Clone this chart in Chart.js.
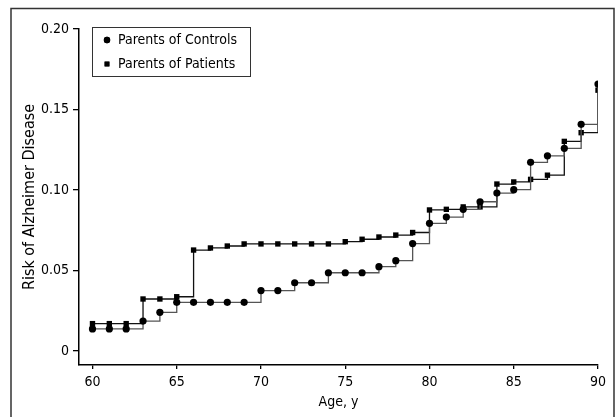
<!DOCTYPE html>
<html>
<head>
<meta charset="utf-8">
<script src="https://cdn.jsdelivr.net/npm/chart.js@4"></script>
<style>
  html, body { margin: 0; padding: 0; background: #fff; }
  #wrap { width: 615px; height: 417px; position: relative; }
</style>
</head>
<body>
<div id="wrap"><canvas id="c" width="615" height="417"></canvas></div>
<script>
const ages = [60,61,62,63,64,65,66,67,68,69,70,71,72,73,74,75,76,77,78,79,80,81,82,83,84,85,86,87,88,89,90];
const controls = [0.0137,0.0137,0.0137,0.0186,0.0240,0.0302,0.0302,0.0302,0.0302,0.0302,0.0375,0.0375,0.0424,0.0424,0.0486,0.0486,0.0486,0.0524,0.0561,0.0667,0.0793,0.0832,0.0880,0.0927,0.0981,0.1002,0.1172,0.1212,0.1259,0.1408,0.1658];
const patients = [0.0170,0.0170,0.0170,0.0323,0.0323,0.0337,0.0627,0.0640,0.0652,0.0665,0.0665,0.0665,0.0665,0.0665,0.0665,0.0679,0.0694,0.0708,0.0720,0.0736,0.0876,0.0880,0.0895,0.0895,0.1037,0.1050,0.1066,0.1092,0.1302,0.1356,0.1620];
const yTicks = [0, 0.05, 0.10, 0.15, 0.20];
const yTickLabels = ['0', '0.05', '0.10', '0.15', '0.20'];
const xTicks = [60, 65, 70, 75, 80, 85, 90];
const seriesNames = ['Parents of Controls', 'Parents of Patients'];

const FONT = "'DejaVu Sans Condensed', 'Liberation Sans', Arial, sans-serif";

const framePlugin = {
  id: 'frame',
  beforeDraw(chart) {
    const ctx = chart.ctx;
    ctx.save();
    ctx.strokeStyle = '#333';
    ctx.lineWidth = 1.5;
    ctx.beginPath();
    ctx.moveTo(11, 430);
    ctx.lineTo(11, 8.5);
    ctx.lineTo(614, 8.5);
    ctx.lineTo(614, 430);
    ctx.stroke();
    ctx.restore();
  }
};

const legendPlugin = {
  id: 'boxLegend',
  afterDraw(chart) {
    const ctx = chart.ctx;
    ctx.save();
    ctx.fillStyle = '#fff';
    ctx.fillRect(92.5, 27.5, 158, 49);
    ctx.strokeStyle = '#333';
    ctx.lineWidth = 1;
    ctx.strokeRect(92.5, 27.5, 158, 49);
    const rows = [40, 64];
    chart.data.datasets.forEach((ds, i) => {
      ctx.fillStyle = '#000';
      ctx.strokeStyle = '#000';
      Chart.helpers.drawPoint(ctx, {pointStyle: ds.pointStyle, radius: i === 0 ? 3.2 : 3.4, rotation: 0, borderWidth: 0}, 107, rows[i]);
      ctx.fill();
      ctx.fillStyle = '#000';
      ctx.font = "14px " + FONT;
      ctx.textBaseline = 'middle';
      ctx.textAlign = 'left';
      ctx.fillText(ds.label, 118, rows[i] + 0.5);
    });
    ctx.restore();
  }
};

new Chart(document.getElementById('c'), {
  type: 'line',
  data: {
    labels: ages,
    datasets: [
      {
        label: seriesNames[0],
        data: ages.map((a, i) => ({x: a, y: controls[i]})),
        stepped: 'before',
        borderColor: '#555',
        borderWidth: 1.3,
        pointStyle: 'circle',
        pointRadius: 3.6,
        pointBackgroundColor: '#000',
        pointBorderColor: '#000',
        pointBorderWidth: 0,
        fill: false
      },
      {
        label: seriesNames[1],
        data: ages.map((a, i) => ({x: a, y: patients[i]})),
        stepped: 'before',
        borderColor: '#111',
        borderWidth: 1.3,
        pointStyle: 'rect',
        pointRadius: 3.8,
        pointBackgroundColor: '#000',
        pointBorderColor: '#000',
        pointBorderWidth: 0,
        fill: false
      }
    ]
  },
  options: {
    responsive: false,
    animation: false,
    devicePixelRatio: 1,
    layout: { padding: { left: 12, top: 29, right: 17, bottom: 0 } },
    plugins: {
      legend: { display: false },
      tooltip: { enabled: false }
    },
    scales: {
      x: {
        type: 'linear',
        min: 59.2,
        max: 90,
        afterFit(s) { s.height = 52; },
        afterBuildTicks(s) { s.ticks = xTicks.map(v => ({value: v})); },
        grid: { display: true, drawOnChartArea: false, drawTicks: true, tickLength: 4, color: '#000', tickColor: '#000', lineWidth: 1.3 },
        border: { display: true, color: '#000', width: 1.5 },
        ticks: { color: '#000', font: { family: FONT, size: 14 }, padding: 5, maxRotation: 0, autoSkip: false },
        title: { display: true, text: 'Age, y', color: '#000', font: { family: FONT, size: 14 }, padding: { top: 0, bottom: 6 } }
      },
      y: {
        type: 'linear',
        min: -0.0087,
        max: 0.2,
        afterFit(s) { s.width = 67; },
        afterBuildTicks(s) { s.ticks = yTicks.map(v => ({value: v})); },
        grid: { display: true, drawOnChartArea: false, drawTicks: true, tickLength: 6, color: '#000', tickColor: '#000', lineWidth: 1.3 },
        border: { display: true, color: '#000', width: 1.5 },
        ticks: {
          color: '#000', font: { family: FONT, size: 14 }, padding: 4, autoSkip: false,
          callback(v) { const k = yTicks.findIndex(t => Math.abs(t - v) < 1e-9); return k >= 0 ? yTickLabels[k] : ''; }
        },
        title: { display: true, text: 'Risk of Alzheimer Disease', color: '#000', font: { family: FONT, size: 16 }, padding: { top: 8, bottom: 0 } }
      }
    }
  },
  plugins: [framePlugin, legendPlugin]
});
</script>
</body>
</html>
